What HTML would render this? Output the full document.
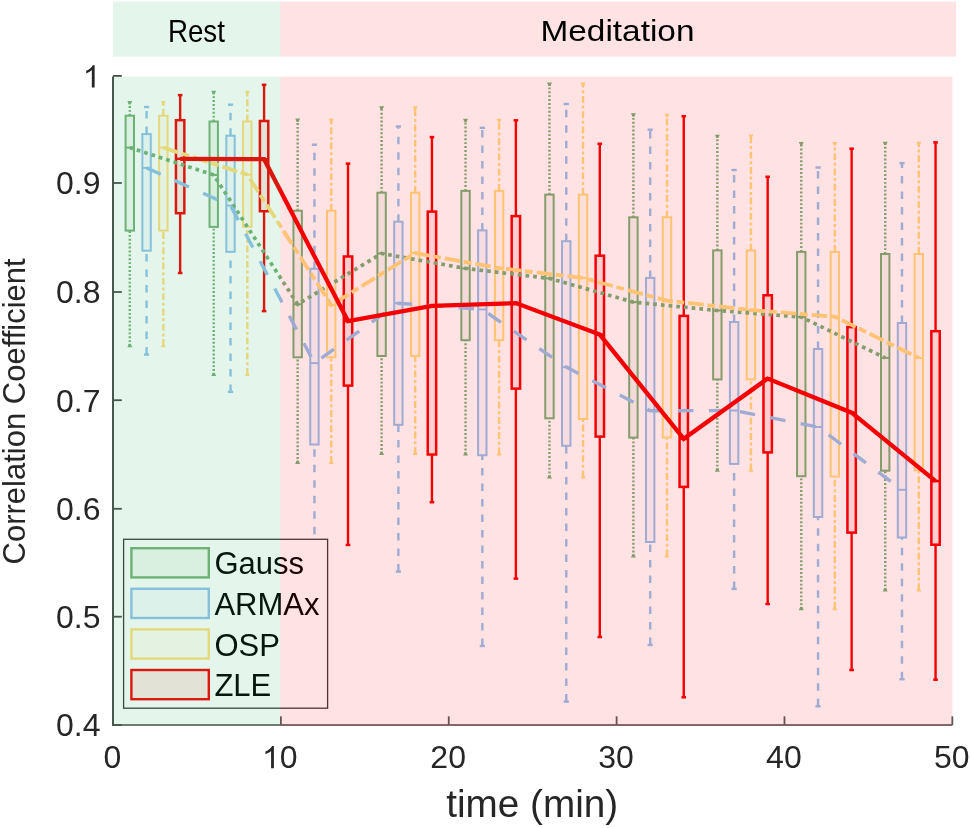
<!DOCTYPE html>
<html><head><meta charset="utf-8"><style>
html,body{margin:0;padding:0;background:#fff;overflow:hidden;}
svg{display:block;will-change:transform;}
text{font-family:"Liberation Sans",sans-serif;fill:#000;}
.tk{font-size:32px;fill:#262626;}
.ax{fill:#262626;}
.lg{font-size:31px;}
.bn{font-size:30px;}
</style></head><body>
<svg width="970" height="828" viewBox="0 0 970 828">
<rect x="0" y="0" width="970" height="828" fill="#fff"/>
<rect x="113" y="1.6" width="167.30" height="55" fill="rgba(47,186,101,0.13)"/>
<rect x="280.30" y="1.6" width="675.90" height="55" fill="rgba(255,0,15,0.114)"/>
<text x="167.9" y="41.6" class="bn" style="font-size:32px" textLength="57" lengthAdjust="spacingAndGlyphs">Rest</text>
<text x="540.5" y="41.2" class="bn" textLength="154" lengthAdjust="spacingAndGlyphs">Meditation</text>
<g>
<line x1="129.79" y1="115.70" x2="129.79" y2="102.20" stroke="#76b078" stroke-width="2.4" stroke-dasharray="1.9 2.0"/>
<line x1="129.79" y1="346.00" x2="129.79" y2="230.60" stroke="#76b078" stroke-width="2.4" stroke-dasharray="1.9 2.0"/>
<path d="M127.39,101.00 H132.19 L130.79,104.40 H128.79 Z" fill="#76b078"/>
<path d="M127.39,347.20 H132.19 L130.79,343.80 H128.79 Z" fill="#76b078"/>
<rect x="125.59" y="115.70" width="8.40" height="114.90" fill="#76b078" fill-opacity="0.085" stroke="#76b078" stroke-width="2.0"/>
<line x1="125.59" y1="147.60" x2="133.99" y2="147.60" stroke="#76b078" stroke-width="2.0"/>
<line x1="213.72" y1="121.50" x2="213.72" y2="92.00" stroke="#76b078" stroke-width="2.4" stroke-dasharray="1.9 2.0"/>
<line x1="213.72" y1="374.90" x2="213.72" y2="226.90" stroke="#76b078" stroke-width="2.4" stroke-dasharray="1.9 2.0"/>
<path d="M211.32,90.80 H216.12 L214.72,94.20 H212.72 Z" fill="#76b078"/>
<path d="M211.32,376.10 H216.12 L214.72,372.70 H212.72 Z" fill="#76b078"/>
<rect x="209.52" y="121.50" width="8.40" height="105.40" fill="#76b078" fill-opacity="0.085" stroke="#76b078" stroke-width="2.0"/>
<line x1="209.52" y1="175.00" x2="217.92" y2="175.00" stroke="#76b078" stroke-width="2.0"/>
<line x1="297.66" y1="210.70" x2="297.66" y2="119.80" stroke="#76b078" stroke-width="2.4" stroke-dasharray="1.9 2.0"/>
<line x1="297.66" y1="462.80" x2="297.66" y2="357.30" stroke="#76b078" stroke-width="2.4" stroke-dasharray="1.9 2.0"/>
<path d="M295.26,118.60 H300.06 L298.66,122.00 H296.66 Z" fill="#76b078"/>
<path d="M295.26,464.00 H300.06 L298.66,460.60 H296.66 Z" fill="#76b078"/>
<rect x="293.46" y="210.70" width="8.40" height="146.60" fill="#76b078" fill-opacity="0.085" stroke="#76b078" stroke-width="2.0"/>
<line x1="293.46" y1="304.30" x2="301.86" y2="304.30" stroke="#76b078" stroke-width="2.0"/>
<line x1="381.59" y1="192.70" x2="381.59" y2="107.40" stroke="#76b078" stroke-width="2.4" stroke-dasharray="1.9 2.0"/>
<line x1="381.59" y1="453.80" x2="381.59" y2="356.00" stroke="#76b078" stroke-width="2.4" stroke-dasharray="1.9 2.0"/>
<path d="M379.19,106.20 H383.99 L382.59,109.60 H380.59 Z" fill="#76b078"/>
<path d="M379.19,455.00 H383.99 L382.59,451.60 H380.59 Z" fill="#76b078"/>
<rect x="377.39" y="192.70" width="8.40" height="163.30" fill="#76b078" fill-opacity="0.085" stroke="#76b078" stroke-width="2.0"/>
<line x1="377.39" y1="253.50" x2="385.79" y2="253.50" stroke="#76b078" stroke-width="2.0"/>
<line x1="465.53" y1="190.90" x2="465.53" y2="120.00" stroke="#76b078" stroke-width="2.4" stroke-dasharray="1.9 2.0"/>
<line x1="465.53" y1="454.40" x2="465.53" y2="340.20" stroke="#76b078" stroke-width="2.4" stroke-dasharray="1.9 2.0"/>
<path d="M463.13,118.80 H467.93 L466.53,122.20 H464.53 Z" fill="#76b078"/>
<path d="M463.13,455.60 H467.93 L466.53,452.20 H464.53 Z" fill="#76b078"/>
<rect x="461.33" y="190.90" width="8.40" height="149.30" fill="#76b078" fill-opacity="0.085" stroke="#76b078" stroke-width="2.0"/>
<line x1="461.33" y1="268.40" x2="469.73" y2="268.40" stroke="#76b078" stroke-width="2.0"/>
<line x1="549.46" y1="194.60" x2="549.46" y2="83.80" stroke="#76b078" stroke-width="2.4" stroke-dasharray="1.9 2.0"/>
<line x1="549.46" y1="477.40" x2="549.46" y2="418.30" stroke="#76b078" stroke-width="2.4" stroke-dasharray="1.9 2.0"/>
<path d="M547.06,82.60 H551.86 L550.46,86.00 H548.46 Z" fill="#76b078"/>
<path d="M547.06,478.60 H551.86 L550.46,475.20 H548.46 Z" fill="#76b078"/>
<rect x="545.26" y="194.60" width="8.40" height="223.70" fill="#76b078" fill-opacity="0.085" stroke="#76b078" stroke-width="2.0"/>
<line x1="545.26" y1="278.40" x2="553.66" y2="278.40" stroke="#76b078" stroke-width="2.0"/>
<line x1="633.40" y1="217.30" x2="633.40" y2="114.50" stroke="#76b078" stroke-width="2.4" stroke-dasharray="1.9 2.0"/>
<line x1="633.40" y1="556.40" x2="633.40" y2="437.60" stroke="#76b078" stroke-width="2.4" stroke-dasharray="1.9 2.0"/>
<path d="M631.00,113.30 H635.80 L634.40,116.70 H632.40 Z" fill="#76b078"/>
<path d="M631.00,557.60 H635.80 L634.40,554.20 H632.40 Z" fill="#76b078"/>
<rect x="629.20" y="217.30" width="8.40" height="220.30" fill="#76b078" fill-opacity="0.085" stroke="#76b078" stroke-width="2.0"/>
<line x1="629.20" y1="302.10" x2="637.60" y2="302.10" stroke="#76b078" stroke-width="2.0"/>
<line x1="717.33" y1="250.40" x2="717.33" y2="135.90" stroke="#76b078" stroke-width="2.4" stroke-dasharray="1.9 2.0"/>
<line x1="717.33" y1="470.50" x2="717.33" y2="379.40" stroke="#76b078" stroke-width="2.4" stroke-dasharray="1.9 2.0"/>
<path d="M714.93,134.70 H719.73 L718.33,138.10 H716.33 Z" fill="#76b078"/>
<path d="M714.93,471.70 H719.73 L718.33,468.30 H716.33 Z" fill="#76b078"/>
<rect x="713.13" y="250.40" width="8.40" height="129.00" fill="#76b078" fill-opacity="0.085" stroke="#76b078" stroke-width="2.0"/>
<line x1="713.13" y1="310.50" x2="721.53" y2="310.50" stroke="#76b078" stroke-width="2.0"/>
<line x1="801.27" y1="251.90" x2="801.27" y2="143.20" stroke="#76b078" stroke-width="2.4" stroke-dasharray="1.9 2.0"/>
<line x1="801.27" y1="609.00" x2="801.27" y2="476.20" stroke="#76b078" stroke-width="2.4" stroke-dasharray="1.9 2.0"/>
<path d="M798.87,142.00 H803.67 L802.27,145.40 H800.27 Z" fill="#76b078"/>
<path d="M798.87,610.20 H803.67 L802.27,606.80 H800.27 Z" fill="#76b078"/>
<rect x="797.07" y="251.90" width="8.40" height="224.30" fill="#76b078" fill-opacity="0.085" stroke="#76b078" stroke-width="2.0"/>
<line x1="797.07" y1="317.00" x2="805.47" y2="317.00" stroke="#76b078" stroke-width="2.0"/>
<line x1="885.20" y1="254.00" x2="885.20" y2="142.90" stroke="#76b078" stroke-width="2.4" stroke-dasharray="1.9 2.0"/>
<line x1="885.20" y1="590.20" x2="885.20" y2="470.70" stroke="#76b078" stroke-width="2.4" stroke-dasharray="1.9 2.0"/>
<path d="M882.80,141.70 H887.60 L886.20,145.10 H884.20 Z" fill="#76b078"/>
<path d="M882.80,591.40 H887.60 L886.20,588.00 H884.20 Z" fill="#76b078"/>
<rect x="881.00" y="254.00" width="8.40" height="216.70" fill="#76b078" fill-opacity="0.085" stroke="#76b078" stroke-width="2.0"/>
<line x1="881.00" y1="357.90" x2="889.40" y2="357.90" stroke="#76b078" stroke-width="2.0"/>
<line x1="146.57" y1="134.10" x2="146.57" y2="107.00" stroke="#94c1ec" stroke-width="2.4" stroke-dasharray="7.5 8.0"/>
<line x1="146.57" y1="354.60" x2="146.57" y2="250.70" stroke="#94c1ec" stroke-width="2.4" stroke-dasharray="7.5 8.0"/>
<rect x="143.97" y="105.80" width="5.2" height="2.4" fill="#94c1ec"/>
<rect x="143.97" y="353.40" width="5.2" height="2.4" fill="#94c1ec"/>
<rect x="142.37" y="134.10" width="8.40" height="116.60" fill="#94c1ec" fill-opacity="0.085" stroke="#94c1ec" stroke-width="2.0"/>
<line x1="142.37" y1="167.90" x2="150.77" y2="167.90" stroke="#94c1ec" stroke-width="2.0"/>
<line x1="230.51" y1="135.70" x2="230.51" y2="104.70" stroke="#94c1ec" stroke-width="2.4" stroke-dasharray="7.5 8.0"/>
<line x1="230.51" y1="391.90" x2="230.51" y2="251.80" stroke="#94c1ec" stroke-width="2.4" stroke-dasharray="7.5 8.0"/>
<rect x="227.91" y="103.50" width="5.2" height="2.4" fill="#94c1ec"/>
<rect x="227.91" y="390.70" width="5.2" height="2.4" fill="#94c1ec"/>
<rect x="226.31" y="135.70" width="8.40" height="116.10" fill="#94c1ec" fill-opacity="0.085" stroke="#94c1ec" stroke-width="2.0"/>
<line x1="226.31" y1="205.60" x2="234.71" y2="205.60" stroke="#94c1ec" stroke-width="2.0"/>
<line x1="314.44" y1="268.80" x2="314.44" y2="144.70" stroke="#94c1ec" stroke-width="2.4" stroke-dasharray="7.5 8.0"/>
<line x1="314.44" y1="549.70" x2="314.44" y2="444.50" stroke="#94c1ec" stroke-width="2.4" stroke-dasharray="7.5 8.0"/>
<rect x="311.84" y="143.50" width="5.2" height="2.4" fill="#94c1ec"/>
<rect x="311.84" y="548.50" width="5.2" height="2.4" fill="#94c1ec"/>
<rect x="310.24" y="268.80" width="8.40" height="175.70" fill="#94c1ec" fill-opacity="0.085" stroke="#94c1ec" stroke-width="2.0"/>
<line x1="310.24" y1="363.10" x2="318.64" y2="363.10" stroke="#94c1ec" stroke-width="2.0"/>
<line x1="398.38" y1="221.70" x2="398.38" y2="126.50" stroke="#94c1ec" stroke-width="2.4" stroke-dasharray="7.5 8.0"/>
<line x1="398.38" y1="571.60" x2="398.38" y2="424.80" stroke="#94c1ec" stroke-width="2.4" stroke-dasharray="7.5 8.0"/>
<rect x="395.78" y="125.30" width="5.2" height="2.4" fill="#94c1ec"/>
<rect x="395.78" y="570.40" width="5.2" height="2.4" fill="#94c1ec"/>
<rect x="394.18" y="221.70" width="8.40" height="203.10" fill="#94c1ec" fill-opacity="0.085" stroke="#94c1ec" stroke-width="2.0"/>
<line x1="394.18" y1="303.20" x2="402.58" y2="303.20" stroke="#94c1ec" stroke-width="2.0"/>
<line x1="482.31" y1="230.40" x2="482.31" y2="127.80" stroke="#94c1ec" stroke-width="2.4" stroke-dasharray="7.5 8.0"/>
<line x1="482.31" y1="646.00" x2="482.31" y2="455.20" stroke="#94c1ec" stroke-width="2.4" stroke-dasharray="7.5 8.0"/>
<rect x="479.71" y="126.60" width="5.2" height="2.4" fill="#94c1ec"/>
<rect x="479.71" y="644.80" width="5.2" height="2.4" fill="#94c1ec"/>
<rect x="478.11" y="230.40" width="8.40" height="224.80" fill="#94c1ec" fill-opacity="0.085" stroke="#94c1ec" stroke-width="2.0"/>
<line x1="478.11" y1="309.40" x2="486.51" y2="309.40" stroke="#94c1ec" stroke-width="2.0"/>
<line x1="566.25" y1="241.20" x2="566.25" y2="104.00" stroke="#94c1ec" stroke-width="2.4" stroke-dasharray="7.5 8.0"/>
<line x1="566.25" y1="701.60" x2="566.25" y2="445.80" stroke="#94c1ec" stroke-width="2.4" stroke-dasharray="7.5 8.0"/>
<rect x="563.65" y="102.80" width="5.2" height="2.4" fill="#94c1ec"/>
<rect x="563.65" y="700.40" width="5.2" height="2.4" fill="#94c1ec"/>
<rect x="562.05" y="241.20" width="8.40" height="204.60" fill="#94c1ec" fill-opacity="0.085" stroke="#94c1ec" stroke-width="2.0"/>
<line x1="562.05" y1="367.10" x2="570.45" y2="367.10" stroke="#94c1ec" stroke-width="2.0"/>
<line x1="650.18" y1="277.90" x2="650.18" y2="129.70" stroke="#94c1ec" stroke-width="2.4" stroke-dasharray="7.5 8.0"/>
<line x1="650.18" y1="645.00" x2="650.18" y2="542.00" stroke="#94c1ec" stroke-width="2.4" stroke-dasharray="7.5 8.0"/>
<rect x="647.58" y="128.50" width="5.2" height="2.4" fill="#94c1ec"/>
<rect x="647.58" y="643.80" width="5.2" height="2.4" fill="#94c1ec"/>
<rect x="645.98" y="277.90" width="8.40" height="264.10" fill="#94c1ec" fill-opacity="0.085" stroke="#94c1ec" stroke-width="2.0"/>
<line x1="645.98" y1="410.80" x2="654.38" y2="410.80" stroke="#94c1ec" stroke-width="2.0"/>
<line x1="734.12" y1="322.00" x2="734.12" y2="170.00" stroke="#94c1ec" stroke-width="2.4" stroke-dasharray="7.5 8.0"/>
<line x1="734.12" y1="588.90" x2="734.12" y2="463.90" stroke="#94c1ec" stroke-width="2.4" stroke-dasharray="7.5 8.0"/>
<rect x="731.52" y="168.80" width="5.2" height="2.4" fill="#94c1ec"/>
<rect x="731.52" y="587.70" width="5.2" height="2.4" fill="#94c1ec"/>
<rect x="729.92" y="322.00" width="8.40" height="141.90" fill="#94c1ec" fill-opacity="0.085" stroke="#94c1ec" stroke-width="2.0"/>
<line x1="729.92" y1="410.50" x2="738.32" y2="410.50" stroke="#94c1ec" stroke-width="2.0"/>
<line x1="818.05" y1="349.00" x2="818.05" y2="167.50" stroke="#94c1ec" stroke-width="2.4" stroke-dasharray="7.5 8.0"/>
<line x1="818.05" y1="706.30" x2="818.05" y2="517.00" stroke="#94c1ec" stroke-width="2.4" stroke-dasharray="7.5 8.0"/>
<rect x="815.45" y="166.30" width="5.2" height="2.4" fill="#94c1ec"/>
<rect x="815.45" y="705.10" width="5.2" height="2.4" fill="#94c1ec"/>
<rect x="813.85" y="349.00" width="8.40" height="168.00" fill="#94c1ec" fill-opacity="0.085" stroke="#94c1ec" stroke-width="2.0"/>
<line x1="813.85" y1="427.00" x2="822.25" y2="427.00" stroke="#94c1ec" stroke-width="2.0"/>
<line x1="901.99" y1="323.00" x2="901.99" y2="163.10" stroke="#94c1ec" stroke-width="2.4" stroke-dasharray="7.5 8.0"/>
<line x1="901.99" y1="679.20" x2="901.99" y2="537.50" stroke="#94c1ec" stroke-width="2.4" stroke-dasharray="7.5 8.0"/>
<rect x="899.39" y="161.90" width="5.2" height="2.4" fill="#94c1ec"/>
<rect x="899.39" y="678.00" width="5.2" height="2.4" fill="#94c1ec"/>
<rect x="897.79" y="323.00" width="8.40" height="214.50" fill="#94c1ec" fill-opacity="0.085" stroke="#94c1ec" stroke-width="2.0"/>
<line x1="897.79" y1="489.80" x2="906.19" y2="489.80" stroke="#94c1ec" stroke-width="2.0"/>
<line x1="163.36" y1="115.70" x2="163.36" y2="102.20" stroke="#ffdc80" stroke-width="2.4" stroke-dasharray="6.9 2.7 3.0 2.7"/>
<line x1="163.36" y1="346.00" x2="163.36" y2="230.60" stroke="#ffdc80" stroke-width="2.4" stroke-dasharray="6.9 2.7 3.0 2.7"/>
<path d="M160.96,101.00 H165.76 L164.36,104.40 H162.36 Z" fill="#ffdc80"/>
<path d="M160.96,347.20 H165.76 L164.36,343.80 H162.36 Z" fill="#ffdc80"/>
<rect x="159.16" y="115.70" width="8.40" height="114.90" fill="#ffdc80" fill-opacity="0.085" stroke="#ffdc80" stroke-width="2.0"/>
<line x1="159.16" y1="147.60" x2="167.56" y2="147.60" stroke="#ffdc80" stroke-width="2.0"/>
<line x1="247.30" y1="121.50" x2="247.30" y2="92.00" stroke="#ffdc80" stroke-width="2.4" stroke-dasharray="6.9 2.7 3.0 2.7"/>
<line x1="247.30" y1="374.90" x2="247.30" y2="226.90" stroke="#ffdc80" stroke-width="2.4" stroke-dasharray="6.9 2.7 3.0 2.7"/>
<path d="M244.90,90.80 H249.70 L248.30,94.20 H246.30 Z" fill="#ffdc80"/>
<path d="M244.90,376.10 H249.70 L248.30,372.70 H246.30 Z" fill="#ffdc80"/>
<rect x="243.10" y="121.50" width="8.40" height="105.40" fill="#ffdc80" fill-opacity="0.085" stroke="#ffdc80" stroke-width="2.0"/>
<line x1="243.10" y1="174.70" x2="251.50" y2="174.70" stroke="#ffdc80" stroke-width="2.0"/>
<line x1="331.23" y1="210.70" x2="331.23" y2="119.80" stroke="#ffdc80" stroke-width="2.4" stroke-dasharray="6.9 2.7 3.0 2.7"/>
<line x1="331.23" y1="462.80" x2="331.23" y2="357.30" stroke="#ffdc80" stroke-width="2.4" stroke-dasharray="6.9 2.7 3.0 2.7"/>
<path d="M328.83,118.60 H333.63 L332.23,122.00 H330.23 Z" fill="#ffdc80"/>
<path d="M328.83,464.00 H333.63 L332.23,460.60 H330.23 Z" fill="#ffdc80"/>
<rect x="327.03" y="210.70" width="8.40" height="146.60" fill="#ffdc80" fill-opacity="0.085" stroke="#ffdc80" stroke-width="2.0"/>
<line x1="327.03" y1="305.00" x2="335.43" y2="305.00" stroke="#ffdc80" stroke-width="2.0"/>
<line x1="415.17" y1="192.70" x2="415.17" y2="107.40" stroke="#ffdc80" stroke-width="2.4" stroke-dasharray="6.9 2.7 3.0 2.7"/>
<line x1="415.17" y1="453.80" x2="415.17" y2="356.00" stroke="#ffdc80" stroke-width="2.4" stroke-dasharray="6.9 2.7 3.0 2.7"/>
<path d="M412.77,106.20 H417.57 L416.17,109.60 H414.17 Z" fill="#ffdc80"/>
<path d="M412.77,455.00 H417.57 L416.17,451.60 H414.17 Z" fill="#ffdc80"/>
<rect x="410.97" y="192.70" width="8.40" height="163.30" fill="#ffdc80" fill-opacity="0.085" stroke="#ffdc80" stroke-width="2.0"/>
<line x1="410.97" y1="253.10" x2="419.37" y2="253.10" stroke="#ffdc80" stroke-width="2.0"/>
<line x1="499.10" y1="190.90" x2="499.10" y2="120.00" stroke="#ffdc80" stroke-width="2.4" stroke-dasharray="6.9 2.7 3.0 2.7"/>
<line x1="499.10" y1="454.40" x2="499.10" y2="340.20" stroke="#ffdc80" stroke-width="2.4" stroke-dasharray="6.9 2.7 3.0 2.7"/>
<path d="M496.70,118.80 H501.50 L500.10,122.20 H498.10 Z" fill="#ffdc80"/>
<path d="M496.70,455.60 H501.50 L500.10,452.20 H498.10 Z" fill="#ffdc80"/>
<rect x="494.90" y="190.90" width="8.40" height="149.30" fill="#ffdc80" fill-opacity="0.085" stroke="#ffdc80" stroke-width="2.0"/>
<line x1="494.90" y1="268.00" x2="503.30" y2="268.00" stroke="#ffdc80" stroke-width="2.0"/>
<line x1="583.04" y1="194.60" x2="583.04" y2="83.80" stroke="#ffdc80" stroke-width="2.4" stroke-dasharray="6.9 2.7 3.0 2.7"/>
<line x1="583.04" y1="477.40" x2="583.04" y2="419.00" stroke="#ffdc80" stroke-width="2.4" stroke-dasharray="6.9 2.7 3.0 2.7"/>
<path d="M580.64,82.60 H585.44 L584.04,86.00 H582.04 Z" fill="#ffdc80"/>
<path d="M580.64,478.60 H585.44 L584.04,475.20 H582.04 Z" fill="#ffdc80"/>
<rect x="578.84" y="194.60" width="8.40" height="224.40" fill="#ffdc80" fill-opacity="0.085" stroke="#ffdc80" stroke-width="2.0"/>
<line x1="578.84" y1="278.00" x2="587.24" y2="278.00" stroke="#ffdc80" stroke-width="2.0"/>
<line x1="666.97" y1="217.30" x2="666.97" y2="114.90" stroke="#ffdc80" stroke-width="2.4" stroke-dasharray="6.9 2.7 3.0 2.7"/>
<line x1="666.97" y1="556.40" x2="666.97" y2="437.60" stroke="#ffdc80" stroke-width="2.4" stroke-dasharray="6.9 2.7 3.0 2.7"/>
<path d="M664.57,113.70 H669.37 L667.97,117.10 H665.97 Z" fill="#ffdc80"/>
<path d="M664.57,557.60 H669.37 L667.97,554.20 H665.97 Z" fill="#ffdc80"/>
<rect x="662.77" y="217.30" width="8.40" height="220.30" fill="#ffdc80" fill-opacity="0.085" stroke="#ffdc80" stroke-width="2.0"/>
<line x1="662.77" y1="300.60" x2="671.17" y2="300.60" stroke="#ffdc80" stroke-width="2.0"/>
<line x1="750.91" y1="250.40" x2="750.91" y2="135.60" stroke="#ffdc80" stroke-width="2.4" stroke-dasharray="6.9 2.7 3.0 2.7"/>
<line x1="750.91" y1="470.50" x2="750.91" y2="379.40" stroke="#ffdc80" stroke-width="2.4" stroke-dasharray="6.9 2.7 3.0 2.7"/>
<path d="M748.51,134.40 H753.31 L751.91,137.80 H749.91 Z" fill="#ffdc80"/>
<path d="M748.51,471.70 H753.31 L751.91,468.30 H749.91 Z" fill="#ffdc80"/>
<rect x="746.71" y="250.40" width="8.40" height="129.00" fill="#ffdc80" fill-opacity="0.085" stroke="#ffdc80" stroke-width="2.0"/>
<line x1="746.71" y1="310.00" x2="755.11" y2="310.00" stroke="#ffdc80" stroke-width="2.0"/>
<line x1="834.84" y1="251.90" x2="834.84" y2="143.20" stroke="#ffdc80" stroke-width="2.4" stroke-dasharray="6.9 2.7 3.0 2.7"/>
<line x1="834.84" y1="609.00" x2="834.84" y2="476.50" stroke="#ffdc80" stroke-width="2.4" stroke-dasharray="6.9 2.7 3.0 2.7"/>
<path d="M832.44,142.00 H837.24 L835.84,145.40 H833.84 Z" fill="#ffdc80"/>
<path d="M832.44,610.20 H837.24 L835.84,606.80 H833.84 Z" fill="#ffdc80"/>
<rect x="830.64" y="251.90" width="8.40" height="224.60" fill="#ffdc80" fill-opacity="0.085" stroke="#ffdc80" stroke-width="2.0"/>
<line x1="830.64" y1="316.70" x2="839.04" y2="316.70" stroke="#ffdc80" stroke-width="2.0"/>
<line x1="918.78" y1="254.00" x2="918.78" y2="142.90" stroke="#ffdc80" stroke-width="2.4" stroke-dasharray="6.9 2.7 3.0 2.7"/>
<line x1="918.78" y1="590.20" x2="918.78" y2="470.30" stroke="#ffdc80" stroke-width="2.4" stroke-dasharray="6.9 2.7 3.0 2.7"/>
<path d="M916.38,141.70 H921.18 L919.78,145.10 H917.78 Z" fill="#ffdc80"/>
<path d="M916.38,591.40 H921.18 L919.78,588.00 H917.78 Z" fill="#ffdc80"/>
<rect x="914.58" y="254.00" width="8.40" height="216.30" fill="#ffdc80" fill-opacity="0.085" stroke="#ffdc80" stroke-width="2.0"/>
<line x1="914.58" y1="357.90" x2="922.98" y2="357.90" stroke="#ffdc80" stroke-width="2.0"/>
<line x1="180.15" y1="120.20" x2="180.15" y2="95.10" stroke="#f40000" stroke-width="2.4"/>
<line x1="180.15" y1="273.00" x2="180.15" y2="213.20" stroke="#f40000" stroke-width="2.4"/>
<rect x="177.85" y="93.85" width="4.6" height="2.5" fill="#f40000"/>
<rect x="177.85" y="271.75" width="4.6" height="2.5" fill="#f40000"/>
<rect x="175.95" y="120.20" width="8.40" height="93.00" fill="#f40000" fill-opacity="0.085" stroke="#f40000" stroke-width="2.5"/>
<line x1="175.95" y1="158.80" x2="184.35" y2="158.80" stroke="#f40000" stroke-width="2.5"/>
<line x1="264.08" y1="121.00" x2="264.08" y2="84.80" stroke="#f40000" stroke-width="2.4"/>
<line x1="264.08" y1="311.10" x2="264.08" y2="211.20" stroke="#f40000" stroke-width="2.4"/>
<rect x="261.78" y="83.55" width="4.6" height="2.5" fill="#f40000"/>
<rect x="261.78" y="309.85" width="4.6" height="2.5" fill="#f40000"/>
<rect x="259.88" y="121.00" width="8.40" height="90.20" fill="#f40000" fill-opacity="0.085" stroke="#f40000" stroke-width="2.5"/>
<line x1="259.88" y1="159.20" x2="268.28" y2="159.20" stroke="#f40000" stroke-width="2.5"/>
<line x1="348.02" y1="256.50" x2="348.02" y2="163.60" stroke="#f40000" stroke-width="2.4"/>
<line x1="348.02" y1="545.00" x2="348.02" y2="385.60" stroke="#f40000" stroke-width="2.4"/>
<rect x="345.72" y="162.35" width="4.6" height="2.5" fill="#f40000"/>
<rect x="345.72" y="543.75" width="4.6" height="2.5" fill="#f40000"/>
<rect x="343.82" y="256.50" width="8.40" height="129.10" fill="#f40000" fill-opacity="0.085" stroke="#f40000" stroke-width="2.5"/>
<line x1="343.82" y1="321.10" x2="352.22" y2="321.10" stroke="#f40000" stroke-width="2.5"/>
<line x1="431.95" y1="211.60" x2="431.95" y2="137.10" stroke="#f40000" stroke-width="2.4"/>
<line x1="431.95" y1="502.20" x2="431.95" y2="454.50" stroke="#f40000" stroke-width="2.4"/>
<rect x="429.65" y="135.85" width="4.6" height="2.5" fill="#f40000"/>
<rect x="429.65" y="500.95" width="4.6" height="2.5" fill="#f40000"/>
<rect x="427.75" y="211.60" width="8.40" height="242.90" fill="#f40000" fill-opacity="0.085" stroke="#f40000" stroke-width="2.5"/>
<line x1="427.75" y1="305.80" x2="436.15" y2="305.80" stroke="#f40000" stroke-width="2.5"/>
<line x1="515.89" y1="216.10" x2="515.89" y2="120.30" stroke="#f40000" stroke-width="2.4"/>
<line x1="515.89" y1="578.60" x2="515.89" y2="388.60" stroke="#f40000" stroke-width="2.4"/>
<rect x="513.59" y="119.05" width="4.6" height="2.5" fill="#f40000"/>
<rect x="513.59" y="577.35" width="4.6" height="2.5" fill="#f40000"/>
<rect x="511.69" y="216.10" width="8.40" height="172.50" fill="#f40000" fill-opacity="0.085" stroke="#f40000" stroke-width="2.5"/>
<line x1="511.69" y1="303.10" x2="520.09" y2="303.10" stroke="#f40000" stroke-width="2.5"/>
<line x1="599.82" y1="255.70" x2="599.82" y2="143.80" stroke="#f40000" stroke-width="2.4"/>
<line x1="599.82" y1="637.00" x2="599.82" y2="436.60" stroke="#f40000" stroke-width="2.4"/>
<rect x="597.52" y="142.55" width="4.6" height="2.5" fill="#f40000"/>
<rect x="597.52" y="635.75" width="4.6" height="2.5" fill="#f40000"/>
<rect x="595.62" y="255.70" width="8.40" height="180.90" fill="#f40000" fill-opacity="0.085" stroke="#f40000" stroke-width="2.5"/>
<line x1="595.62" y1="334.60" x2="604.02" y2="334.60" stroke="#f40000" stroke-width="2.5"/>
<line x1="683.76" y1="315.90" x2="683.76" y2="116.20" stroke="#f40000" stroke-width="2.4"/>
<line x1="683.76" y1="697.30" x2="683.76" y2="486.90" stroke="#f40000" stroke-width="2.4"/>
<rect x="681.46" y="114.95" width="4.6" height="2.5" fill="#f40000"/>
<rect x="681.46" y="696.05" width="4.6" height="2.5" fill="#f40000"/>
<rect x="679.56" y="315.90" width="8.40" height="171.00" fill="#f40000" fill-opacity="0.085" stroke="#f40000" stroke-width="2.5"/>
<line x1="679.56" y1="438.80" x2="687.96" y2="438.80" stroke="#f40000" stroke-width="2.5"/>
<line x1="767.69" y1="295.30" x2="767.69" y2="176.80" stroke="#f40000" stroke-width="2.4"/>
<line x1="767.69" y1="604.00" x2="767.69" y2="452.40" stroke="#f40000" stroke-width="2.4"/>
<rect x="765.39" y="175.55" width="4.6" height="2.5" fill="#f40000"/>
<rect x="765.39" y="602.75" width="4.6" height="2.5" fill="#f40000"/>
<rect x="763.49" y="295.30" width="8.40" height="157.10" fill="#f40000" fill-opacity="0.085" stroke="#f40000" stroke-width="2.5"/>
<line x1="763.49" y1="378.60" x2="771.89" y2="378.60" stroke="#f40000" stroke-width="2.5"/>
<line x1="851.63" y1="327.10" x2="851.63" y2="148.70" stroke="#f40000" stroke-width="2.4"/>
<line x1="851.63" y1="670.00" x2="851.63" y2="532.60" stroke="#f40000" stroke-width="2.4"/>
<rect x="849.33" y="147.45" width="4.6" height="2.5" fill="#f40000"/>
<rect x="849.33" y="668.75" width="4.6" height="2.5" fill="#f40000"/>
<rect x="847.43" y="327.10" width="8.40" height="205.50" fill="#f40000" fill-opacity="0.085" stroke="#f40000" stroke-width="2.5"/>
<line x1="847.43" y1="412.70" x2="855.83" y2="412.70" stroke="#f40000" stroke-width="2.5"/>
<line x1="935.56" y1="331.20" x2="935.56" y2="142.40" stroke="#f40000" stroke-width="2.4"/>
<line x1="935.56" y1="679.70" x2="935.56" y2="544.70" stroke="#f40000" stroke-width="2.4"/>
<rect x="933.26" y="141.15" width="4.6" height="2.5" fill="#f40000"/>
<rect x="933.26" y="678.45" width="4.6" height="2.5" fill="#f40000"/>
<rect x="931.36" y="331.20" width="8.40" height="213.50" fill="#f40000" fill-opacity="0.085" stroke="#f40000" stroke-width="2.5"/>
<line x1="931.36" y1="481.10" x2="939.76" y2="481.10" stroke="#f40000" stroke-width="2.5"/>
<polyline points="129.79,147.60 213.72,175.00 297.66,304.30 381.59,253.50 465.53,268.40 549.46,278.40 633.40,302.10 717.33,310.50 801.27,317.00 885.20,357.90" fill="none" stroke="#76b078" stroke-width="3.7" stroke-linejoin="miter" stroke-dasharray="3.7 4.023" stroke-dashoffset="0.37"/>
<polyline points="146.57,167.90 230.51,205.60 314.44,363.10 398.38,303.20 482.31,309.40 566.25,367.10 650.18,410.80 734.12,410.50 818.05,427.00 901.99,489.80" fill="none" stroke="#94c1ec" stroke-width="3.4" stroke-linejoin="miter" stroke-dasharray="15.5 15.5"/>
<polyline points="163.36,147.60 247.30,174.70 331.23,305.00 415.17,253.10 499.10,268.00 583.04,278.00 666.97,300.60 750.91,310.00 834.84,316.70 918.78,357.90" fill="none" stroke="#ffdc80" stroke-width="3.8" stroke-linejoin="miter" stroke-dasharray="15.5 3.7 7.8 4.0"/>
<polyline points="180.15,158.80 264.08,159.20 348.02,321.10 431.95,305.80 515.89,303.10 599.82,334.60 683.76,438.80 767.69,378.60 851.63,412.70 935.56,481.10" fill="none" stroke="#f40000" stroke-width="4.3" stroke-linejoin="miter"/>
<line x1="112.0" y1="725.0" x2="952.4" y2="725.0" stroke="#747474" stroke-width="1.8"/>
<line x1="113.0" y1="76.6" x2="113.0" y2="725.9" stroke="#4a4a4a" stroke-width="2.0"/>
<line x1="113.0" y1="75.9" x2="121.8" y2="75.9" stroke="#4a4a4a" stroke-width="1.8"/>
<line x1="113.0" y1="183.0" x2="121.8" y2="183.0" stroke="#4a4a4a" stroke-width="1.8"/>
<line x1="113.0" y1="292.0" x2="121.8" y2="292.0" stroke="#4a4a4a" stroke-width="1.8"/>
<line x1="113.0" y1="400.2" x2="121.8" y2="400.2" stroke="#4a4a4a" stroke-width="1.8"/>
<line x1="113.0" y1="508.8" x2="121.8" y2="508.8" stroke="#4a4a4a" stroke-width="1.8"/>
<line x1="113.0" y1="616.7" x2="121.8" y2="616.7" stroke="#4a4a4a" stroke-width="1.8"/>
<line x1="113.0" y1="725.0" x2="121.8" y2="725.0" stroke="#4a4a4a" stroke-width="1.8"/>
<line x1="280.87" y1="725.0" x2="280.87" y2="716.3" stroke="#5a5a5a" stroke-width="1.8"/>
<line x1="448.74" y1="725.0" x2="448.74" y2="716.3" stroke="#5a5a5a" stroke-width="1.8"/>
<line x1="616.61" y1="725.0" x2="616.61" y2="716.3" stroke="#5a5a5a" stroke-width="1.8"/>
<line x1="784.48" y1="725.0" x2="784.48" y2="716.3" stroke="#5a5a5a" stroke-width="1.8"/>
<line x1="952.35" y1="725.0" x2="952.35" y2="716.3" stroke="#5a5a5a" stroke-width="1.8"/>
<rect x="123.6" y="539.3" width="204.0" height="168.9" fill="#ffffff" stroke="#3a3a3a" stroke-width="1.3"/>
<rect x="131.4" y="548.20" width="77.4" height="29.2" fill="#76b078" fill-opacity="0.085" stroke="#76b078" stroke-width="2.4"/>
<text x="214.4" y="574.30" class="lg">Gauss</text>
<rect x="131.4" y="588.80" width="77.4" height="29.2" fill="#94c1ec" fill-opacity="0.085" stroke="#94c1ec" stroke-width="2.4"/>
<text x="214.4" y="614.90" class="lg">ARMAx</text>
<rect x="131.4" y="629.40" width="77.4" height="29.2" fill="#ffdc80" fill-opacity="0.085" stroke="#ffdc80" stroke-width="2.4"/>
<text x="214.4" y="655.50" class="lg">OSP</text>
<rect x="131.4" y="670.00" width="77.4" height="29.2" fill="#f40000" fill-opacity="0.085" stroke="#f40000" stroke-width="2.4"/>
<text x="214.4" y="696.10" class="lg">ZLE</text>
</g>
<rect x="112" y="76.6" width="168.30" height="649.40" fill="rgba(47,186,101,0.13)"/>
<rect x="280.30" y="76.6" width="672.10" height="649.40" fill="rgba(255,0,15,0.114)"/>
<path d="M763 0H583V1147Q518 1085 412.5 1023Q307 961 223 930V1104Q374 1175 487 1276Q600 1377 647 1472H763Z" transform="translate(82.71,87.50) scale(0.01562,-0.01516)" fill="#262626"/>
<text x="100.5" y="194.30" class="tk" text-anchor="end">0.9</text>
<text x="100.5" y="303.30" class="tk" text-anchor="end">0.8</text>
<text x="100.5" y="411.50" class="tk" text-anchor="end">0.7</text>
<text x="100.5" y="520.10" class="tk" text-anchor="end">0.6</text>
<text x="100.5" y="628.00" class="tk" text-anchor="end">0.5</text>
<text x="100.5" y="736.30" class="tk" text-anchor="end">0.4</text>
<text x="112.40" y="768.3" class="tk" text-anchor="middle">0</text>
<path d="M763 0H583V1147Q518 1085 412.5 1023Q307 961 223 930V1104Q374 1175 487 1276Q600 1377 647 1472H763Z" transform="translate(261.98,768.30) scale(0.01562,-0.01516)" fill="#262626"/>
<text x="279.77" y="768.3" class="tk">0</text>
<text x="448.14" y="768.3" class="tk" text-anchor="middle">20</text>
<text x="616.01" y="768.3" class="tk" text-anchor="middle">30</text>
<text x="783.88" y="768.3" class="tk" text-anchor="middle">40</text>
<text x="951.75" y="768.3" class="tk" text-anchor="middle">50</text>
<text x="532.2" y="817" class="ax" style="font-size:38.7px" text-anchor="middle">time (min)</text>
<text transform="translate(25,411.4) rotate(-90)" class="ax" style="font-size:31px" text-anchor="middle">Correlation Coefficient</text>
</svg>
</body></html>
